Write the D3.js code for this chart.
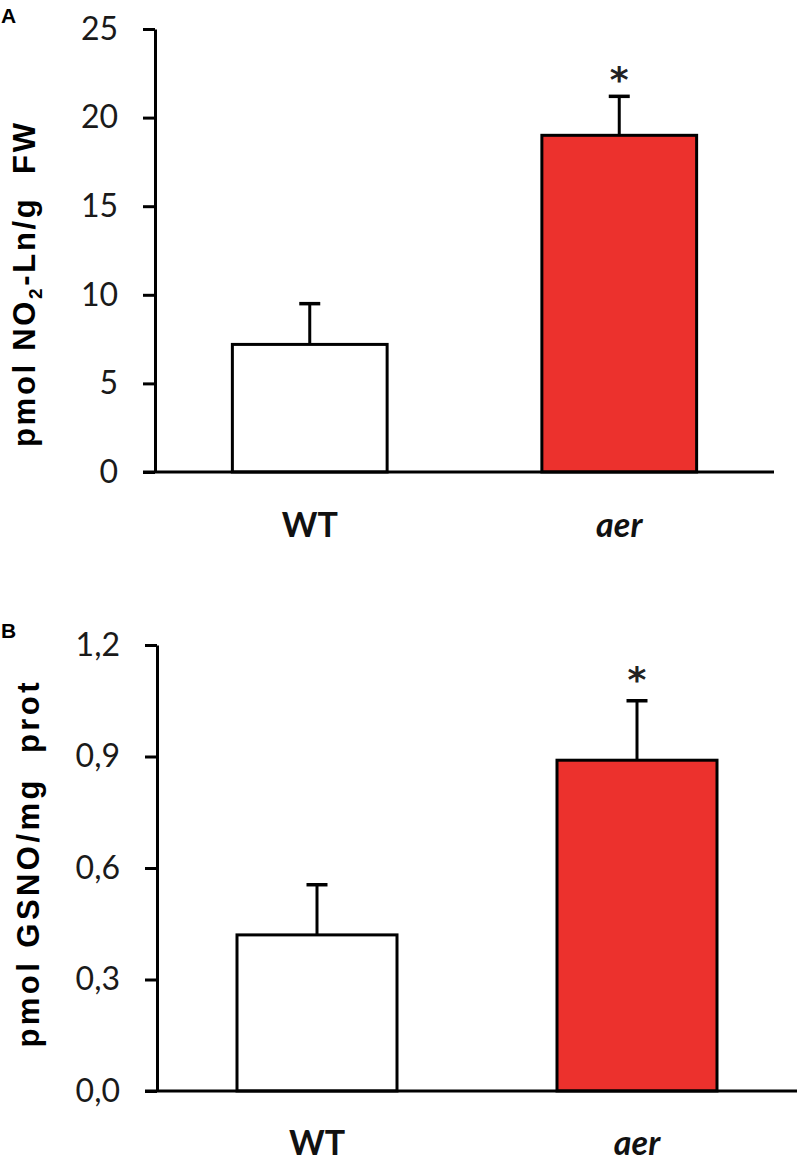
<!DOCTYPE html>
<html>
<head>
<meta charset="utf-8">
<script src="https://cdn.jsdelivr.net/npm/d3@7"></script>
<style>
  html, body { margin: 0; padding: 0; background: #fff; }
  svg { display: block; }
</style>
</head>
<body>
<div id="chart"></div>
<script>
// ---- data ----
const categories = ["WT", "aer"];
const nitroValues = [7.2, 19.0];
const nitroErrors = [2.3, 2.2];
const gsnoValues = [0.42, 0.89];
const gsnoErrors = [0.135, 0.16];
const significant = [false, true];
const nitroTicks = [0, 5, 10, 15, 20, 25];
const gsnoTicks = [0, 0.3, 0.6, 0.9, 1.2];
const barColors = ["#ffffff", "#ec312d"];

const W = 798, H = 1161;
const svg = d3.select("#chart").append("svg").attr("width", W).attr("height", H);

const commaFmt = d3.formatLocale({decimal: ",", thousands: ".", grouping: [3], currency: ["", ""]}).format(".1f");

const panels = [
  {
    letter: "A", letterY: 23,
    values: nitroValues, errors: nitroErrors, ticks: nitroTicks,
    domain: [0, 25], yRange: [472, 29], xRange: [155, 774],
    fmt: d3.format("d"),
    title: [{t: "pmol NO"}, {t: "2", sub: true}, {t: "-Ln/g  FW"}],
    titleX: 35, titleY: 285, titleLen: 324,
    starGap: 24, labelPad: 41
  },
  {
    letter: "B", letterY: 638,
    values: gsnoValues, errors: gsnoErrors, ticks: gsnoTicks,
    domain: [0, 1.2], yRange: [1091, 645], xRange: [157, 797],
    fmt: commaFmt,
    title: [{t: "pmol GSNO/mg  prot"}],
    titleX: 39, titleY: 865, titleLen: 365,
    starGap: 29, labelPad: 40
  }
];

const tickLen = 12;

panels.forEach(p => {
  const g = svg.append("g");
  const x = d3.scaleBand().domain(categories).range(p.xRange).paddingInner(0.5).paddingOuter(0.25);
  const y = d3.scaleLinear().domain(p.domain).range(p.yRange);
  const data = categories.map((c, i) => ({c, v: p.values[i], e: p.errors[i], sig: significant[i], fill: barColors[i]}));

  // bars
  g.selectAll("rect.bar").data(data).join("rect")
    .attr("class", "bar")
    .attr("x", d => x(d.c))
    .attr("width", x.bandwidth())
    .attr("y", d => y(d.v))
    .attr("height", d => y(0) - y(d.v))
    .attr("fill", d => d.fill)
    .attr("stroke", "#000")
    .attr("stroke-width", 3);

  // error bars
  const cx = d => x(d.c) + x.bandwidth() / 2;
  g.selectAll("line.err").data(data).join("line")
    .attr("class", "err")
    .attr("x1", cx).attr("x2", cx)
    .attr("y1", d => y(d.v)).attr("y2", d => y(d.v + d.e))
    .attr("stroke", "#000").attr("stroke-width", 3);
  g.selectAll("line.cap").data(data).join("line")
    .attr("class", "cap")
    .attr("x1", d => cx(d) - 10.5).attr("x2", d => cx(d) + 10.5)
    .attr("y1", d => y(d.v + d.e)).attr("y2", d => y(d.v + d.e))
    .attr("stroke", "#000").attr("stroke-width", 3.5);

  // significance stars
  const starSize = 36;
  g.selectAll("text.star").data(data.filter(d => d.sig)).join("text")
    .attr("class", "star")
    .attr("x", cx)
    .attr("y", d => y(d.v + d.e) - p.starGap + starSize * 0.55)
    .attr("text-anchor", "middle")
    .attr("font-family", "'DejaVu Sans', sans-serif")
    .attr("font-weight", "bold")
    .attr("font-size", starSize)
    .attr("fill", "#222")
    .text("*");

  // y axis
  const yAxis = d3.axisLeft(y).tickValues(p.ticks).tickFormat(p.fmt)
    .tickSize(tickLen).tickSizeOuter(0).tickPadding(25);
  const ya = g.append("g").attr("transform", `translate(${p.xRange[0]},0)`).call(yAxis);
  ya.select(".domain").attr("stroke", "#000").attr("stroke-width", 3);
  ya.selectAll(".tick line").attr("stroke", "#000").attr("stroke-width", 3);
  ya.selectAll(".tick text")
    .attr("font-family", "Lato, 'Open Sans', sans-serif")
    .attr("font-size", 32)
    .attr("fill", "#1a1a1a");

  // baseline (x axis line)
  g.append("line")
    .attr("x1", p.xRange[0] - tickLen).attr("x2", p.xRange[1])
    .attr("y1", y(0)).attr("y2", y(0))
    .attr("stroke", "#000").attr("stroke-width", 3);

  // category labels
  const xAxis = d3.axisBottom(x).tickSize(0).tickPadding(p.labelPad);
  const xa = g.append("g").attr("transform", `translate(0,${y(0)})`).call(xAxis);
  xa.select(".domain").remove();
  xa.selectAll(".tick text")
    .attr("font-family", "Lato, 'Open Sans', sans-serif")
    .attr("font-weight", "bold")
    .attr("font-size", 34)
    .attr("fill", "#111")
    .style("font-style", d => d === "aer" ? "italic" : "normal");

  // y title
  const title = g.append("text")
    .attr("transform", `translate(${p.titleX},${p.titleY}) rotate(-90)`)
    .attr("text-anchor", "middle")
    .attr("font-family", "'Liberation Sans', Arial, sans-serif")
    .attr("font-weight", "bold")
    .attr("font-size", 31)
    .attr("fill", "#000")
    .style("white-space", "pre")
    .attr("textLength", p.titleLen)
    .attr("lengthAdjust", "spacing");
  p.title.forEach((part, i) => {
    const ts = title.append("tspan").text(part.t);
    if (part.sub) ts.attr("font-size", 19).attr("dy", 7);
    else if (i > 0 && p.title[i - 1].sub) ts.attr("dy", -7);
  });

  // panel letter
  svg.append("text")
    .attr("x", 1).attr("y", p.letterY)
    .attr("font-family", "'Liberation Sans', Arial, sans-serif")
    .attr("font-weight", "bold")
    .attr("font-size", 21)
    .attr("fill", "#000")
    .text(p.letter);
});
</script>
</body>
</html>
